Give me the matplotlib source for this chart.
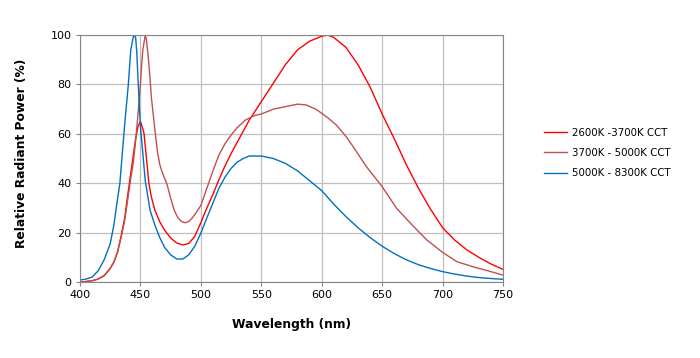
import matplotlib.pyplot as plt

# wavelengths (nm) and relative power (%)
wl_warm = [400, 405, 410, 415, 420, 425, 428, 431, 434, 437, 440, 442, 444, 446, 448, 450,
           452, 453, 455, 457, 459, 462, 466, 470, 475, 480, 485, 490, 495, 500, 505, 510,
           515, 520, 525, 530, 540, 550, 560, 570, 580, 590, 600, 605, 610, 620, 630, 640,
           650, 660, 670, 680, 690, 700, 710, 720, 730, 740, 750]
p_warm = [0, 0.2, 0.5, 1.2, 2.5, 5.5, 8, 12, 18.5, 26, 37, 44, 51, 58, 63, 65,
          62, 60, 50, 40, 34.5, 29, 24.4, 21, 17.8, 15.8, 15, 15.6, 18.5, 24, 30, 35.5,
          41.5, 47, 52, 56.5, 65.5, 73, 80.5, 88, 94, 97.5, 99.5, 100, 99, 95, 88, 79,
          68, 58, 47.5, 38, 29.5, 22, 17, 13, 10, 7.3, 5.1]

wl_neutral = [400, 405, 410, 415, 420, 425, 428, 431, 434, 437, 440, 442, 444, 446, 448, 450,
              451, 452, 454, 455, 456.5, 458, 459, 461, 462, 464, 466, 468, 470, 472, 475,
              478, 481, 484, 487, 490, 493, 496, 500, 505, 510, 515, 520, 525, 530, 537,
              545, 550, 560, 570, 580, 587, 595, 600, 605, 612, 620, 625, 637, 650, 662,
              675, 687, 700, 712, 725, 737, 750]
p_neutral = [0, 0.2, 0.5, 1.2, 2.7, 5.5, 8, 12, 18, 25, 35, 42, 48, 57, 68, 80,
             88, 94, 100, 98, 91, 82, 75, 66, 61.5, 53, 47.5, 44.5, 42, 39.5, 34,
             29, 26, 24.5, 24, 24.5, 26, 28, 31, 38, 45, 51.5, 56, 59.5, 62.5, 65.6,
             67.5, 68, 70, 71, 72, 71.7, 70, 68.3, 66.5, 63.6, 59, 55.5, 46.7, 38.6, 29.8,
             23, 17, 12, 8.2, 6.2, 4.6, 2.8]

wl_cool = [400, 405, 410, 415, 420, 425, 428, 430, 433, 435, 437, 440, 442, 444, 445, 446,
           447, 448, 450, 452, 454, 456, 458, 462, 466, 470, 475, 480, 485, 490, 495, 500,
           505, 510, 515, 520, 525, 530, 535, 540, 550, 560, 570, 580, 590, 600, 610, 620,
           630, 640, 650, 660, 670, 680, 690, 700, 710, 720, 730, 740, 750]
p_cool = [0.8, 1.2, 2, 4.5, 9, 15.5, 23, 30, 40, 52, 64, 80, 94, 99, 100, 99,
          93, 82, 63, 52, 41, 35, 29, 23, 18, 14, 11, 9.3, 9.3, 11, 14.5, 19.8,
          26, 32, 38, 42.5, 46, 48.5, 50, 51, 51, 50, 48, 45, 41, 37, 31.5, 26.5,
          22, 18, 14.5, 11.5, 9, 7, 5.5, 4.2, 3.2, 2.4, 1.8, 1.4, 1.1]

labels = ['2600K -3700K CCT', '3700K - 5000K CCT', '5000K - 8300K CCT']
colors = ['#FF0000', '#C0504D', '#0070C0']

fig = plt.figure(figsize=(7, 3.58), dpi=100)
ax = fig.add_axes([80/700, 76/358, 423/700, 247/358])

ax.plot(wl_warm, p_warm, color=colors[0], lw=1.0, label=labels[0])
ax.plot(wl_neutral, p_neutral, color=colors[1], lw=1.0, label=labels[1])
ax.plot(wl_cool, p_cool, color=colors[2], lw=1.0, label=labels[2])

ax.set_xlim(400, 750)
ax.set_ylim(0, 100)
ax.set_xticks(range(400, 751, 50))
ax.set_yticks(range(0, 101, 20))
ax.grid(True, color='#BFBFBF', lw=0.9)
ax.set_axisbelow(True)
for s in ax.spines.values():
    s.set_color('#868686')
ax.tick_params(labelsize=8, length=3, color='#868686', pad=3)

ax.set_xlabel('Wavelength (nm)', fontsize=8.8, fontweight='bold', labelpad=13)
ax.set_ylabel('Relative Radiant Power (%)', fontsize=8.8, fontweight='bold', labelpad=14)
ax.yaxis.set_label_coords(-0.122, 0.52)

fig.legend(loc='center left', bbox_to_anchor=(539/700, 1 - 153/358), frameon=False,
           fontsize=7.4, handlelength=2.2, handletextpad=0.5, labelspacing=1.0, borderpad=0)

plt.savefig('out.png', dpi=100)
